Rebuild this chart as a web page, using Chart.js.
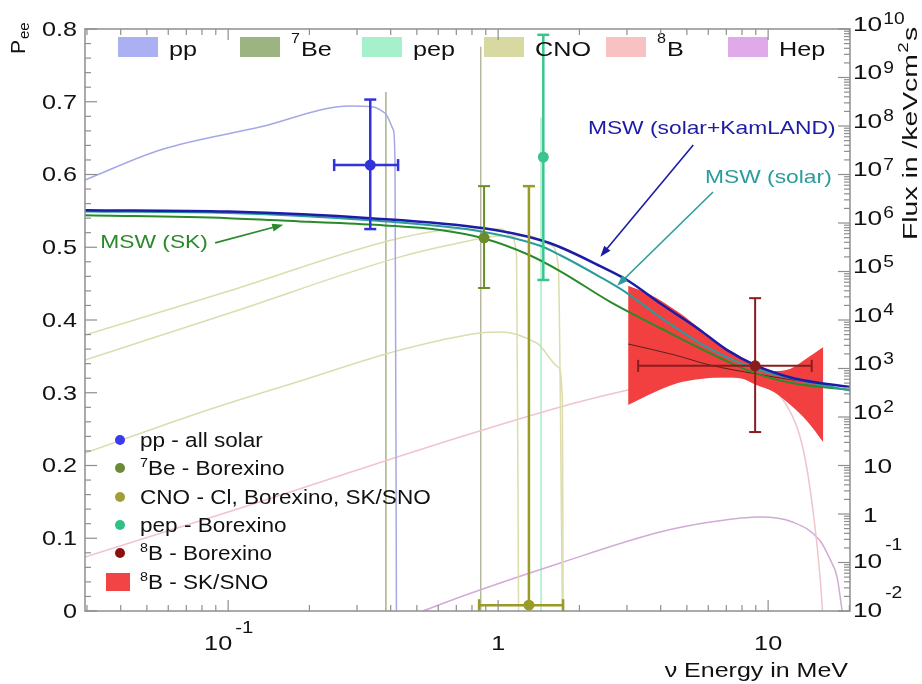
<!DOCTYPE html>
<html>
<head>
<meta charset="utf-8">
<script src="https://cdn.jsdelivr.net/npm/chart.js@4.4.1/dist/chart.umd.min.js"></script>
<style>
html, body { margin: 0; padding: 0; background: #fff; }
</style>
</head>
<body>
<canvas id="myChart" width="922" height="684"></canvas>
<script>
// ---- flux spectra, right axis (/keV cm^2 s), energies in MeV ----
var ppE     = [0.0295, 0.056, 0.131, 0.283, 0.344, 0.381, 0.409, 0.415, 0.420];
var ppFlux  = [7.7e6, 3.2e7, 9.5e7, 2.58e8, 2.46e8, 1.85e8, 8.3e7, 1.7e7, 0.01];
var n13E    = [0.0295, 0.1, 0.434, 0.723, 1.03, 1.11, 1.17, 1.19];
var n13Flux = [4.9e3, 3.9e4, 4.9e5, 7.5e5, 7.5e5, 5.4e5, 2.2e5, 0.01];
var o15E    = [0.0295, 0.1, 0.434, 0.723, 1.02, 1.31, 1.56, 1.67, 1.73];
var o15Flux = [1.5e3, 1.36e4, 2.0e5, 3.9e5, 5.4e5, 5.4e5, 3.5e5, 1.35e5, 0.01];
var f17E    = [0.0295, 0.084, 0.185, 0.434, 0.857, 1.04, 1.39, 1.67, 1.73, 1.74];
var f17Flux = [18.1, 139, 552, 2.4e3, 5.4e3, 5.66e3, 3.36e3, 1.07e3, 224, 0.01];
var b8E     = [0.0295, 0.1, 0.723, 1.70, 2.39, 3.0, 4.5, 6.63, 9.34, 11.8, 13.5, 14.7, 15.6, 15.9];
var b8Flux  = [0.13, 1.1, 38.7, 161, 264, 356, 580, 668, 502, 161, 20.9, 1.05, 0.044, 0.01];
var hepE    = [0.527, 0.723, 1.70, 3.98, 6.3, 9.34, 12.3, 15.5, 17.0, 18.0, 18.8];
var hepFlux = [0.01, 0.0195, 0.098, 0.426, 0.70, 0.867, 0.684, 0.291, 0.113, 0.050, 0.01];

// mono-energetic lines
var be7LineE   = [0.384, 0.862];
var be7LineTop = [5.0e8, 4.3e9];
var pepLineE   = [1.442];
var pepLineTop = [1.5e8];
var fluxMin = 0.01;

// ---- survival probability curves (left axis) ----
var kamE      = [0.0295, 0.1, 0.336, 0.887, 1.43, 1.70, 2.39, 3.0, 3.98, 5.6, 7.03, 8.95, 12.4, 20.1];
var kamPee    = [0.551, 0.549, 0.540, 0.526, 0.510, 0.500, 0.474, 0.455, 0.423, 0.386, 0.359, 0.338, 0.320, 0.308];
var solarPee  = [0.549, 0.547, 0.537, 0.521, 0.502, 0.489, 0.459, 0.437, 0.404, 0.368, 0.349, 0.333, 0.319, 0.303];
var skE       = [0.0295, 0.1, 0.2, 0.38, 0.6, 0.887, 1.29, 1.70, 2.60, 3.98, 5.6, 8.95, 12.4, 20.1];
var skPee     = [0.544, 0.540, 0.535, 0.530, 0.524, 0.512, 0.490, 0.467, 0.425, 0.389, 0.361, 0.327, 0.313, 0.304];

// 8B SK/SNO band
var bandE     = [3.03, 3.6, 4.6, 5.6, 6.8, 7.9, 9.0, 10.5, 12.1, 14.0, 16.0];
var bandHigh  = [0.447, 0.436, 0.412, 0.388, 0.364, 0.350, 0.338, 0.330, 0.333, 0.348, 0.363];
var bandLow   = [0.283, 0.297, 0.313, 0.319, 0.321, 0.320, 0.311, 0.301, 0.283, 0.260, 0.232];
var skSnoE    = [3.03, 4.5, 6.1, 9.0, 12.1, 16.0];
var skSnoPee  = [0.367, 0.352, 0.338, 0.326, 0.318, 0.312];

// ---- measurements ----
var ptNames = ["pp", "7Be", "CNO", "pep", "8B"];
var ptE     = [0.336, 0.887, 1.30, 1.47, 8.95];
var ptPee   = [0.613, 0.513, 0.008, 0.624, 0.337];
var ptLo    = [0.525, 0.444, 0.008, 0.455, 0.246];
var ptHi    = [0.703, 0.584, 0.584, 0.792, 0.430];
var ptEmin  = [0.247, null, 0.85, null, 3.30];
var ptEmax  = [0.426, null, 1.74, null, 14.5];

// ---- axis tick labels ----
var yTickVals   = [0, 0.1, 0.2, 0.3, 0.4, 0.5, 0.6, 0.7, 0.8];
var yTickLabels = ["0", "0.1", "0.2", "0.3", "0.4", "0.5", "0.6", "0.7", "0.8"];
var xTickVals   = [0.1, 1, 10];
var xTickBase   = ["10", "1", "10"];
var xTickSup    = ["-1", "", ""];
var fluxTickVals = [1e10, 1e9, 1e8, 1e7, 1e6, 1e5, 1e4, 1e3, 1e2, 10, 1, 0.1, 0.01];
var fluxTickBase = ["10", "10", "10", "10", "10", "10", "10", "10", "10", "10", "1", "10", "10"];
var fluxTickSup  = ["10", "9", "8", "7", "6", "5", "4", "3", "2", "", "", "-1", "-2"];

// ---- legends and labels ----
var topLegendText = ["pp", "Be", "pep", "CNO", "B", "Hep"];
var topLegendSup  = ["", "7", "", "", "8", ""];
var botLegendText = ["pp - all solar", "Be - Borexino", "CNO - Cl, Borexino, SK/SNO", "pep - Borexino", "B - Borexino", "B - SK/SNO"];
var botLegendSup  = ["", "7", "", "", "8", "8"];
var mswLabels     = ["MSW (solar+KamLAND)", "MSW (solar)", "MSW (SK)"];
var mswLabelE     = [2.15, 5.84, 0.0336];
var mswLabelPee   = [0.6625, 0.595, 0.506];
var mswArrowFromE = [5.28, 6.25, 0.0895];
var mswArrowFromP = [0.6405, 0.576, 0.506];
var mswArrowToE   = [2.39, 2.76, 0.160];
var mswArrowToP   = [0.487, 0.447, 0.531];

// colours
var ptColors   = ["#3232dc", "#6c8c2c", "#9a9a26", "#38c68c", "#8a1c1c"];
var ptWidths   = [2.5, 2, 2.5, 2.5, 2];
var topColors  = ["#aab0f2", "#9cb482", "#a6f0cc", "#d8d8a2", "#f8c2c2", "#e0aaea"];
var botColors  = ["#3a3af0", "#6a8a36", "#a0a03a", "#30c084", "#8b1010", "#f24444"];
var mswColors  = ["#1c1ca6", "#2a9c9c", "#2a8a2a"];

var FONT = '"Liberation Sans", Arial, Helvetica, sans-serif';

function pts(xs, ys) {
  return xs.map(function (x, i) { return { x: x, y: ys[i] }; });
}

function fluxSet(xs, ys, color) {
  return {
    data: pts(xs, ys), yAxisID: "y2", borderColor: color, borderWidth: 1.5,
    pointRadius: 0, fill: false, cubicInterpolationMode: "monotone", order: 3
  };
}

function vLine(e, top, color) {
  return {
    data: [{ x: e, y: top }, { x: e, y: fluxMin }], yAxisID: "y2", borderColor: color,
    borderWidth: 1.5, pointRadius: 0, fill: false, order: 3
  };
}

var datasets = [];
// measurement points (drawn on top)
ptE.forEach(function (e, i) {
  datasets.push({
    isPoint: true, data: [{ x: e, y: ptPee[i] }], yAxisID: "y", showLine: false,
    pointRadius: 5.5, pointBackgroundColor: ptColors[i], pointBorderWidth: 0, order: 0
  });
});
datasets.push({ data: pts(kamE, kamPee), yAxisID: "y", borderColor: mswColors[0], borderWidth: 2.5, pointRadius: 0, fill: false, cubicInterpolationMode: "monotone", order: 1 });
datasets.push({ data: pts(kamE, solarPee), yAxisID: "y", borderColor: mswColors[1], borderWidth: 2, pointRadius: 0, fill: false, cubicInterpolationMode: "monotone", order: 1 });
datasets.push({ data: pts(skE, skPee), yAxisID: "y", borderColor: mswColors[2], borderWidth: 2, pointRadius: 0, fill: false, cubicInterpolationMode: "monotone", order: 1 });
datasets.push({ data: pts(skSnoE, skSnoPee), yAxisID: "y", borderColor: "#5a2020", borderWidth: 1, pointRadius: 0, fill: false, cubicInterpolationMode: "monotone", order: 1 });
datasets.push({ data: pts(bandE, bandHigh), yAxisID: "y", borderWidth: 0, borderColor: "rgba(0,0,0,0)", pointRadius: 0, fill: false, cubicInterpolationMode: "monotone", order: 2 });
datasets.push({ data: pts(bandE, bandLow), yAxisID: "y", borderWidth: 0, borderColor: "rgba(0,0,0,0)", pointRadius: 0, fill: "-1", backgroundColor: "#f24040", cubicInterpolationMode: "monotone", order: 2 });
datasets.push(fluxSet(ppE, ppFlux, "#a4a8e6"));
datasets.push(fluxSet(n13E, n13Flux, "#dcdcae"));
datasets.push(fluxSet(o15E, o15Flux, "#dcdcae"));
datasets.push(fluxSet(f17E, f17Flux, "#dcdcae"));
datasets.push(fluxSet(b8E, b8Flux, "#f0c4cc"));
datasets.push(fluxSet(hepE, hepFlux, "#d2aad8"));
datasets.push(vLine(be7LineE[0], be7LineTop[0], "#a6b488"));
datasets.push(vLine(be7LineE[1], be7LineTop[1], "#b8b8a0"));
datasets.push(vLine(pepLineE[0], pepLineTop[0], "#a8ecca"));

function drawText(ctx, s, x, y, size, color, align, sx, base) {
  ctx.save();
  ctx.font = size + "px " + FONT;
  ctx.fillStyle = color;
  ctx.textAlign = align || "left";
  ctx.textBaseline = base || "middle";
  ctx.translate(x, y);
  ctx.scale(sx || 1, 1);
  ctx.fillText(s, 0, 0);
  var w = ctx.measureText(s).width * (sx || 1);
  ctx.restore();
  return w;
}

function seg(ctx, x1, y1, x2, y2) {
  ctx.beginPath(); ctx.moveTo(x1, y1); ctx.lineTo(x2, y2); ctx.stroke();
}

var errorBars = {
  id: "errorBars",
  beforeDatasetsDraw: function (chart) { chart.$errDone = false; },
  beforeDatasetDraw: function (chart, args) {
    if (chart.$errDone || !chart.data.datasets[args.index].isPoint) return;
    chart.$errDone = true;
    var ctx = chart.ctx, xs = chart.scales.x, ys = chart.scales.y;
    ctx.save();
    for (var i = 0; i < ptE.length; i++) {
      var cx = xs.getPixelForValue(ptE[i]), cy = ys.getPixelForValue(ptPee[i]);
      var yt = ys.getPixelForValue(ptHi[i]), yb = ys.getPixelForValue(ptLo[i]);
      ctx.strokeStyle = ptColors[i];
      ctx.lineWidth = ptWidths[i];
      seg(ctx, cx, yt, cx, yb);
      seg(ctx, cx - 6, yt, cx + 6, yt);
      if (ptLo[i] < ptPee[i]) seg(ctx, cx - 6, yb, cx + 6, yb);
      if (ptEmin[i] !== null) {
        var xl = xs.getPixelForValue(ptEmin[i]), xr = xs.getPixelForValue(ptEmax[i]);
        seg(ctx, xl, cy, xr, cy);
        seg(ctx, xl, cy - 6, xl, cy + 6);
        seg(ctx, xr, cy - 6, xr, cy + 6);
      }
    }
    ctx.restore();
  }
};

var decorations = {
  id: "decorations",
  afterDatasetsDraw: function (chart) {
    var ctx = chart.ctx, xs = chart.scales.x, ys = chart.scales.y;
    // arrows and MSW labels
    for (var i = 0; i < mswLabels.length; i++) {
      var x1 = xs.getPixelForValue(mswArrowFromE[i]), y1 = ys.getPixelForValue(mswArrowFromP[i]);
      var x2 = xs.getPixelForValue(mswArrowToE[i]), y2 = ys.getPixelForValue(mswArrowToP[i]);
      var ang = Math.atan2(y2 - y1, x2 - x1);
      ctx.save();
      ctx.strokeStyle = mswColors[i];
      ctx.fillStyle = mswColors[i];
      ctx.lineWidth = 1.6;
      seg(ctx, x1, y1, x2 - 8 * Math.cos(ang), y2 - 8 * Math.sin(ang));
      ctx.beginPath();
      ctx.moveTo(x2, y2);
      ctx.lineTo(x2 - 11 * Math.cos(ang) + 4 * Math.sin(ang), y2 - 11 * Math.sin(ang) - 4 * Math.cos(ang));
      ctx.lineTo(x2 - 11 * Math.cos(ang) - 4 * Math.sin(ang), y2 - 11 * Math.sin(ang) + 4 * Math.cos(ang));
      ctx.closePath();
      ctx.fill();
      ctx.restore();
      drawText(ctx, mswLabels[i], xs.getPixelForValue(mswLabelE[i]), ys.getPixelForValue(mswLabelPee[i]), 19, mswColors[i], "left", 1.2);
    }
    // top legend
    for (var j = 0; j < topLegendText.length; j++) {
      var bx = 118 + j * 122;
      ctx.fillStyle = topColors[j];
      ctx.fillRect(bx, 37, 40, 20);
      var tx = bx + 51;
      if (topLegendSup[j]) {
        tx += drawText(ctx, topLegendSup[j], tx, 43, 14, "#111", "left", 1.15, "alphabetic") + 1;
      }
      drawText(ctx, topLegendText[j], tx, 56, 21, "#111", "left", 1.2, "alphabetic");
    }
    // bottom legend
    var rows = [440, 468, 497, 525, 553, 582];
    for (var k = 0; k < botLegendText.length; k++) {
      if (k === botLegendText.length - 1) {
        ctx.fillStyle = botColors[k];
        ctx.fillRect(106, 573, 24, 18);
      } else {
        ctx.fillStyle = botColors[k];
        ctx.beginPath(); ctx.arc(120, rows[k], 5, 0, Math.PI * 2); ctx.fill();
      }
      var lx = 140;
      if (botLegendSup[k]) {
        lx += drawText(ctx, botLegendSup[k], lx, rows[k] - 5, 13, "#111", "left", 1.1);
      }
      drawText(ctx, botLegendText[k], lx, rows[k] + 1, 20.5, "#111", "left", 1.1);
    }
  },
  afterDraw: function (chart) {
    var ctx = chart.ctx, a = chart.chartArea;
    var xs = chart.scales.x, ys = chart.scales.y, y2 = chart.scales.y2;
    ctx.save();
    ctx.strokeStyle = "#8e8e8e";
    ctx.lineWidth = 1.5;
    ctx.strokeRect(a.left, a.top, a.right - a.left, a.bottom - a.top);
    ctx.lineWidth = 1.2;
    // energy ticks, bottom and top
    for (var p = -2; p <= 1; p++) {
      for (var m = 1; m <= 9; m++) {
        var v = m * Math.pow(10, p);
        if (v < xs.min || v > xs.max) continue;
        var px = xs.getPixelForValue(v), len = m === 1 ? 11 : 6;
        seg(ctx, px, a.bottom, px, a.bottom - len);
        seg(ctx, px, a.top, px, a.top + len);
      }
    }
    // Pee ticks on the left
    for (var t = 0; t <= 40; t++) {
      var py = ys.getPixelForValue(t * 0.02);
      seg(ctx, a.left, py, a.left + (t % 5 === 0 ? 12 : 6), py);
    }
    // flux ticks on the right
    for (var q = -2; q <= 10; q++) {
      for (var n = 1; n <= 9; n++) {
        var fv = n * Math.pow(10, q);
        if (fv > y2.max * 1.0001) continue;
        var fy = y2.getPixelForValue(fv);
        seg(ctx, a.right, fy, a.right - (n === 1 ? 12 : 6), fy);
      }
    }
    ctx.restore();

    var ink = "#111";
    // left labels
    yTickVals.forEach(function (v, i) {
      drawText(ctx, yTickLabels[i], 77, ys.getPixelForValue(v) + 1, 21, ink, "right", 1.2);
    });
    // bottom labels
    xTickVals.forEach(function (v, i) {
      var px = xs.getPixelForValue(v);
      if (xTickSup[i]) {
        drawText(ctx, xTickBase[i], px + 4, 650, 21, ink, "right", 1.2, "alphabetic");
        drawText(ctx, xTickSup[i], px + 7, 633, 17, ink, "left", 1.2, "alphabetic");
      } else {
        drawText(ctx, xTickBase[i], px, 650, 21, ink, "center", 1.2, "alphabetic");
      }
    });
    // right labels
    fluxTickVals.forEach(function (v, i) {
      var fy = y2.getPixelForValue(v), sup = fluxTickSup[i], w;
      if (!sup) {
        drawText(ctx, fluxTickBase[i], 863, fy + 2, 21, ink, "left", 1.25);
      } else if (sup.charAt(0) === "-") {
        w = drawText(ctx, fluxTickBase[i], 853, fy, 21, ink, "left", 1.25);
        drawText(ctx, sup, 853 + w + 3, fy - 17, 16, ink, "left", 1.2);
      } else {
        w = drawText(ctx, fluxTickBase[i], 853, fy - 4, 21, ink, "left", 1.25);
        drawText(ctx, sup, 853 + w + 1, fy - 9, 16, ink, "left", 1.2);
      }
    });
    // x title
    drawText(ctx, "\u03bd Energy in MeV", 848, 677, 21, ink, "right", 1.19, "alphabetic");
    // P_ee, rotated
    ctx.save();
    ctx.translate(25, 54);
    ctx.rotate(-Math.PI / 2);
    ctx.fillStyle = ink;
    ctx.textBaseline = "alphabetic";
    ctx.font = "21px " + FONT;
    ctx.fillText("P", 0, 0);
    var pw = ctx.measureText("P").width;
    ctx.font = "15px " + FONT;
    ctx.fillText("ee", pw + 1, 4);
    ctx.restore();
    // flux title, rotated
    ctx.save();
    ctx.translate(917, 240);
    ctx.rotate(-Math.PI / 2);
    ctx.scale(1.35, 1);
    ctx.fillStyle = ink;
    ctx.textBaseline = "alphabetic";
    ctx.font = "21px " + FONT;
    ctx.fillText("Flux in /keVcm", 0, 0);
    var fw = ctx.measureText("Flux in /keVcm").width;
    ctx.font = "14px " + FONT;
    ctx.fillText("2", fw + 1, -9);
    var sw = ctx.measureText("2").width;
    ctx.font = "21px " + FONT;
    ctx.fillText("s", fw + sw + 2, 0);
    ctx.restore();
  }
};

var config = {
  type: "line",
  data: { datasets: datasets },
  options: {
    responsive: false,
    devicePixelRatio: 1,
    animation: false,
    layout: { padding: { top: 29, left: 0, right: 0, bottom: 0 } },
    plugins: { legend: { display: false }, tooltip: { enabled: false } },
    scales: {
      x: {
        type: "logarithmic", min: 0.0295, max: 20.1,
        grid: { display: false }, border: { display: false }, ticks: { display: false },
        afterFit: function (s) { s.height = 73; }
      },
      y: {
        type: "linear", position: "left", min: 0, max: 0.8,
        grid: { display: false }, border: { display: false }, ticks: { display: false },
        afterFit: function (s) { s.width = 85; }
      },
      y2: {
        type: "logarithmic", position: "right", min: 0.01, max: 1e10,
        grid: { display: false }, border: { display: false }, ticks: { display: false },
        afterFit: function (s) { s.width = 72; }
      }
    }
  },
  plugins: [errorBars, decorations]
};

var myChart = new Chart(document.getElementById("myChart"), config);
</script>
</body>
</html>
